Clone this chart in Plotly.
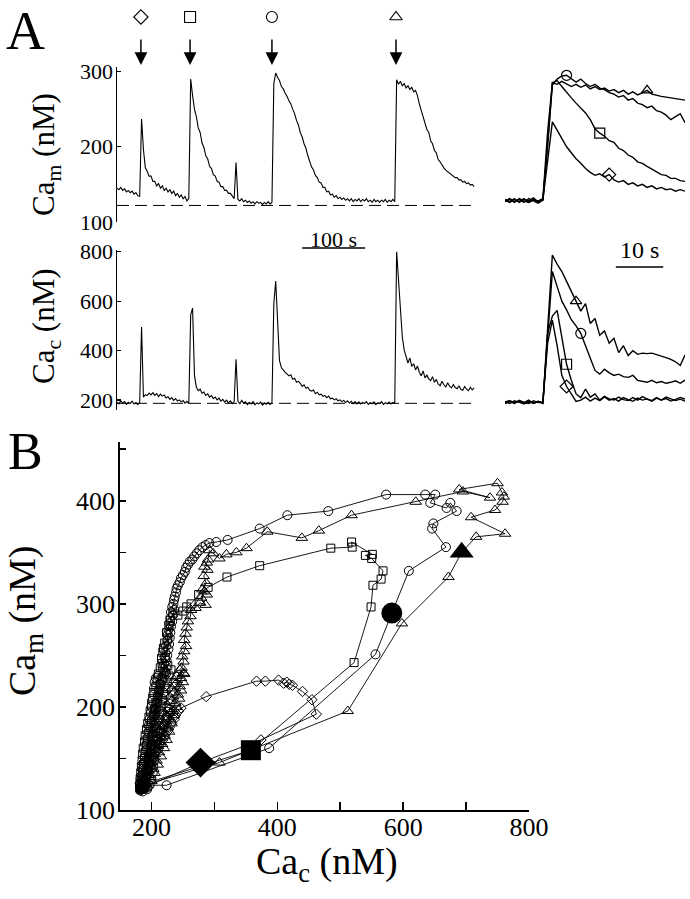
import plotly.graph_objects as go

W, H = 690, 899
FONT = "Liberation Serif, Times New Roman, serif"

# ---------------- Panel A: full recordings (3 s sampling) ----------------
SAMPLE_DT = 3
cam_trace = [
    145, 143, 146, 142, 144, 140, 142, 139, 141, 137,
    139, 135, 134, 237, 196, 172, 167, 161, 161, 154,
    154, 148, 151, 145, 148, 142, 145, 140, 143, 138,
    141, 135, 138, 133, 136, 131, 134, 128, 131, 290,
    268, 250, 240, 225, 219, 205, 199, 188, 184, 174,
    171, 163, 161, 154, 153, 147, 147, 142, 142, 138,
    138, 134, 131, 179, 130, 128, 131, 127, 129, 126,
    128, 125, 127, 124, 127, 125, 126, 123, 126, 124,
    127, 124, 126, 284, 298, 292, 288, 280, 277, 271,
    267, 261, 257, 250, 244, 235, 229, 219, 213, 204,
    198, 188, 181, 173, 169, 162, 159, 153, 152, 146,
    146, 140, 141, 136, 137, 133, 135, 131, 133, 130,
    132, 129, 131, 128, 131, 127, 130, 128, 131, 127,
    130, 128, 131, 127, 129, 126, 130, 127, 129, 126,
    129, 127, 130, 126, 129, 127, 130, 127, 289, 283,
    287, 281, 284, 278, 281, 276, 279, 273, 275, 268,
    257, 249, 239, 234, 223, 219, 208, 204, 195, 192,
    183, 180, 175, 172, 169, 167, 166, 163, 162, 159,
    159, 156, 156, 153, 154, 151, 152, 149, 150, 147,
]
cac_trace = [
    192, 185, 197, 188, 194, 183, 191, 186, 196, 184,
    190, 182, 188, 496, 212, 222, 218, 228, 221, 230,
    219, 226, 214, 224, 216, 221, 209, 214, 203, 210,
    199, 206, 196, 201, 193, 198, 188, 195, 186, 545,
    572, 300, 252, 238, 244, 228, 233, 219, 225, 212,
    218, 206, 212, 201, 208, 196, 203, 192, 200, 189,
    197, 186, 194, 365, 196, 185, 199, 188, 193, 182,
    190, 184, 194, 181, 189, 185, 192, 180, 188, 183,
    191, 182, 188, 590, 681, 545, 360, 332, 320, 312,
    305, 298, 302, 284, 288, 272, 276, 268, 255, 262,
    248, 252, 240, 236, 241, 226, 232, 221, 224, 215,
    219, 210, 216, 205, 208, 201, 206, 197, 201, 194,
    199, 190, 197, 188, 195, 186, 194, 185, 193, 184,
    191, 186, 194, 183, 190, 185, 193, 182, 189, 186,
    194, 183, 190, 185, 192, 184, 191, 186, 800, 690,
    540, 455, 402, 376, 350, 371, 336, 347, 322, 338,
    312, 298, 318, 290, 301, 286, 279, 295, 272, 284,
    265, 258, 276, 262, 253, 270, 256, 249, 263, 251,
    246, 258, 243, 240, 255, 244, 238, 252, 241, 249,
]
stim_times = [38, 116, 246, 443]
stim_symbols = ["diamond-open", "square-open", "circle-open", "triangle-up-open"]
cam_baseline = 122
cac_baseline = 187
cam_ticks = [100, 200, 300]
cac_ticks = [200, 400, 600, 800]

# ---------------- Panel A insets (1 s sampling, 38 s window) ----------------
inset_t = list(range(39))
cam_ins_diamond = [128, 131, 127, 130, 126, 131, 128, 125, 129,
                   180, 233, 222, 210, 200, 192, 184, 178, 171, 166, 162,
                   164, 160, 163, 156, 153, 155, 150, 152, 148, 150,
                   146, 148, 144, 146, 143, 144, 141, 143, 141]
cam_ins_square = [130, 127, 131, 126, 130, 128, 132, 127, 130,
                  200, 285, 288, 280, 272, 265, 258, 251, 245, 236, 224,
                  218, 214, 208, 206, 198, 195, 189, 186, 180, 178,
                  174, 170, 167, 163, 162, 158, 158, 155, 154]
cam_ins_circle = [127, 130, 126, 131, 128, 126, 130, 127, 129,
                  210, 282, 290, 294, 295, 290, 286, 290, 284, 280, 283,
                  278, 276, 272, 270, 266, 268, 262, 264, 258, 256,
                  252, 254, 248, 246, 242, 236, 240, 244, 232]
cam_ins_triangle = [129, 126, 130, 127, 131, 126, 129, 128, 131,
                    220, 285, 283, 287, 284, 280, 283, 279, 282, 277, 280,
                    276, 278, 274, 276, 272, 275, 270, 273, 269, 272,
                    275, 270, 268, 267, 266, 265, 263, 263, 262]
cac_ins_diamond = [189, 195, 186, 199, 191, 186, 197, 190, 192,
                   430, 523, 420, 300, 255, 225, 195, 200, 212, 196, 208,
                   198, 213, 200, 206, 196, 210, 202, 195, 208, 200,
                   205, 198, 210, 200, 206, 196, 203, 211, 204]
cac_ins_square = [194, 186, 197, 190, 185, 196, 188, 193, 186,
                  470, 540, 563, 460, 345, 280, 225, 210, 245, 212, 225,
                  200, 215, 205, 200, 212, 202, 198, 210, 200, 214,
                  204, 196, 208, 200, 212, 205, 198, 204, 196]
cac_ins_circle = [186, 194, 190, 197, 185, 192, 188, 195, 189,
                  450, 720, 660, 600, 565, 525, 500, 470, 420, 370, 320,
                  305, 325, 310, 300, 305, 295, 292, 300, 280, 276,
                  272, 280, 270, 275, 268, 272, 278, 268, 281]
cac_ins_triangle = [192, 198, 188, 196, 190, 200, 186, 194, 190,
                    500, 787, 750, 720, 680, 640, 600, 560, 590, 510, 530,
                    462, 480, 430, 450, 392, 420, 380, 400, 385, 390,
                    388, 390, 385, 378, 372, 365, 355, 340, 382]
cam_label_idx = [22, 20, 13, 30]   # diamond, square, circle, triangle
cac_label_idx = [13, 13, 16, 15]

# ---------------- Panel B: (Ca_c, Ca_m) trajectories, nM ----------------
b_circle = [
    (184, 121), (188, 123), (182, 120), (186, 124),
    (224, 124), (387, 160), (556, 251), (582, 291), (609, 332), (668, 355),
    (646, 373), (648, 378), (685, 390), (675, 398), (669, 393), (643, 398), (651, 406),
    (635, 406), (573, 406), (481, 390), (416, 386), (372, 373), (321, 362), (303, 360),
    (292, 359), (286, 357), (281, 355), (276, 352), (272, 349), (268, 346), (265, 343),
    (261, 341), (258, 338), (255, 335), (253, 331), (250, 328), (247, 325), (245, 321),
    (242, 318), (240, 315), (239, 311), (237, 307), (236, 304), (235, 300), (233, 297),
    (236, 294), (231, 292), (234, 289), (230, 286), (233, 283), (228, 281), (231, 278),
    (227, 275), (230, 272), (226, 270), (229, 267), (225, 264), (228, 261), (223, 259),
    (227, 256), (222, 253), (225, 250), (221, 248), (224, 245), (220, 242), (223, 239),
    (218, 237), (222, 234),
    (223, 232), (210, 230), (207, 228), (218, 226), (205, 224), (214, 222), (221, 220),
    (204, 218), (212, 216), (219, 214), (203, 212), (210, 210), (217, 208), (201, 206),
    (209, 204), (216, 202), (200, 200), (207, 198), (215, 196), (199, 194), (206, 192),
    (213, 190), (197, 188), (205, 186), (212, 184), (196, 182), (203, 180), (211, 178),
    (195, 176), (202, 174), (209, 172), (193, 170), (201, 168), (208, 166), (192, 164),
    (199, 162), (207, 160), (191, 158), (198, 156), (205, 154), (189, 152), (196, 150),
    (204, 148), (188, 146), (195, 144), (203, 142), (187, 140), (194, 138), (202, 136),
    (186, 134), (192, 132), (200, 130), (184, 128), (190, 126), (197, 124), (183, 122),
    (188, 121), (193, 120), (182, 119), (186, 118),
]
b_triangle = [
    (186, 122), (190, 125), (184, 120), (188, 124),
    (308, 146), (512, 196), (598, 281), (672, 326), (693, 350), (716, 365), (762, 368),
    (708, 384), (746, 391), (758, 399), (760, 404), (757, 408), (750, 417), (689, 411),
    (738, 403), (695, 409), (620, 399), (518, 386), (466, 371), (439, 364), (384, 370),
    (351, 354), (335, 350),
    (319, 348), (308, 344), (298, 349), (292, 352), (290, 343), (288, 340), (284, 336),
    (289, 333), (283, 327), (287, 320), (281, 314), (288, 309), (284, 312), (279, 306),
    (286, 299), (277, 301), (270, 296), (263, 294), (262, 288), (258, 283), (256, 277),
    (254, 271), (252, 265), (255, 259), (252, 254), (249, 249), (251, 244), (248, 238),
    (245, 236), (251, 233),
    (252, 232), (240, 230), (247, 228), (236, 226), (250, 224), (238, 222), (245, 220),
    (232, 218), (247, 216), (236, 214), (242, 212), (229, 210), (244, 208), (232, 206),
    (238, 204), (225, 202), (240, 200), (228, 198), (234, 196), (221, 194), (236, 192),
    (224, 190), (230, 188), (217, 186), (232, 184), (219, 182), (226, 180), (213, 178),
    (228, 176), (215, 174), (221, 172), (209, 170), (224, 168), (211, 166), (217, 164),
    (205, 162), (220, 160), (207, 158), (212, 156), (201, 154), (215, 152), (203, 150),
    (208, 148), (197, 146), (210, 144), (199, 142), (203, 140), (193, 138), (205, 136),
    (195, 134), (198, 132), (189, 130), (200, 128), (191, 126), (193, 124), (186, 122),
    (190, 121), (187, 120),
]
b_square = [
    (185, 121), (189, 124), (183, 122), (187, 125),
    (358, 158), (522, 243), (549, 297), (552, 318), (565, 324), (568, 332), (550, 344),
    (540, 347), (551, 348), (518, 360), (519, 355), (485, 354), (372, 337), (320, 326),
    (290, 316), (275, 309), (263, 300), (256, 297), (250, 293), (242, 289), (234, 291),
    (230, 284), (228, 279), (224, 272), (226, 266), (221, 262), (219, 257), (218, 253),
    (222, 248), (217, 242), (216, 247),
    (226, 240), (214, 238), (231, 236), (220, 234), (211, 232), (228, 230), (217, 228),
    (209, 226), (225, 224), (214, 222), (207, 220), (223, 218), (212, 216), (204, 214),
    (220, 212), (210, 210), (202, 208), (218, 206), (207, 204), (200, 202), (215, 200),
    (205, 198), (198, 196), (213, 194), (203, 192), (196, 190), (211, 188), (200, 186),
    (194, 184), (208, 182), (198, 180), (192, 178), (206, 176), (196, 174), (190, 172),
    (203, 170), (194, 168), (189, 166), (201, 164), (192, 162), (187, 160), (199, 158),
    (190, 156), (186, 154), (197, 152), (189, 150), (185, 148), (195, 146), (187, 144),
    (184, 142), (193, 140), (186, 138), (183, 136), (191, 134), (185, 132), (182, 130),
    (189, 128), (184, 126), (181, 124), (187, 122), (183, 120),
]
b_diamond = [
    (184, 120), (188, 123), (186, 121),
    (278, 146), (374, 168), (462, 193), (455, 207), (440, 215), (424, 221), (419, 222),
    (415, 224), (410, 223), (402, 226), (381, 225), (367, 225), (287, 210), (247, 199),
    (243, 196), (230, 194), (238, 192), (226, 190), (236, 188), (223, 186), (232, 184),
    (219, 182), (228, 180), (216, 178), (225, 176), (212, 174), (221, 172), (209, 170),
    (218, 168), (206, 166), (214, 164), (202, 162), (211, 160), (199, 158), (207, 156),
    (196, 154), (204, 152), (193, 150), (200, 148), (190, 146), (197, 144), (188, 142),
    (194, 140), (186, 138), (191, 136), (184, 134), (189, 132), (183, 130), (187, 128),
    (182, 126), (186, 124), (183, 122), (185, 120),
]
b_filled = [(278, 146), (358, 158), (582, 291), (693, 350)]
b_filled_symbols = ["diamond", "square", "circle", "triangle-up"]
b_filled_sizes = [23, 20, 21, 21]
b_xticks = [200, 300, 400, 500, 600, 700, 800]
b_xticktext = ["200", "", "400", "", "600", "", "800"]
b_yticks = [100, 150, 200, 250, 300, 350, 400, 450]
b_yticktext = ["100", "", "200", "", "300", "", "400", ""]


def xd(px):
    return px / W


def yd(py):
    return 1 - py / H


fig = go.Figure()
BLACK = "black"

# --- A main traces
t_cam = [SAMPLE_DT * i for i in range(len(cam_trace))]
t_cac = [SAMPLE_DT * i for i in range(len(cac_trace))]
fig.add_trace(go.Scatter(x=t_cam, y=cam_trace, mode="lines", line=dict(color=BLACK, width=1.1),
                         xaxis="x", yaxis="y"))
fig.add_trace(go.Scatter(x=t_cac, y=cac_trace, mode="lines", line=dict(color=BLACK, width=1.1),
                         xaxis="x2", yaxis="y2"))

# --- header symbols over stimuli
fig.add_trace(go.Scatter(x=stim_times, y=[0.5] * len(stim_times), mode="markers",
                         marker=dict(symbol=stim_symbols, size=11, color=BLACK, opacity=1,
                                     line=dict(width=1.1, color=BLACK)),
                         xaxis="x", yaxis="y6"))

# --- insets
cam_ins = [cam_ins_diamond, cam_ins_square, cam_ins_circle, cam_ins_triangle]
cac_ins = [cac_ins_diamond, cac_ins_square, cac_ins_circle, cac_ins_triangle]
for k in range(4):
    fig.add_trace(go.Scatter(x=inset_t, y=cam_ins[k], mode="lines", line=dict(color=BLACK, width=1.4),
                             xaxis="x3", yaxis="y3"))
    fig.add_trace(go.Scatter(x=inset_t, y=cac_ins[k], mode="lines", line=dict(color=BLACK, width=1.4),
                             xaxis="x4", yaxis="y4"))
for k in range(4):
    i1 = cam_label_idx[k]
    i2 = cac_label_idx[k]
    fig.add_trace(go.Scatter(x=[inset_t[i1]], y=[cam_ins[k][i1]], mode="markers",
                             marker=dict(symbol=stim_symbols[k], size=10, color=BLACK, opacity=1,
                                         line=dict(width=1.2, color=BLACK)),
                             xaxis="x3", yaxis="y3"))
    fig.add_trace(go.Scatter(x=[inset_t[i2]], y=[cac_ins[k][i2]], mode="markers",
                             marker=dict(symbol=stim_symbols[k], size=10, color=BLACK, opacity=1,
                                         line=dict(width=1.2, color=BLACK)),
                             xaxis="x4", yaxis="y4"))

# --- Panel B
b_series = [
    (b_diamond, "diamond-open", 8),
    (b_square, "square-open", 8),
    (b_circle, "circle-open", 9),
    (b_triangle, "triangle-up-open", 10),
]
for pts, sym, sz in b_series:
    xs = [p[0] for p in pts]
    ys = [p[1] for p in pts]
    fig.add_trace(go.Scatter(x=xs, y=ys, mode="lines+markers",
                             line=dict(color=BLACK, width=0.9),
                             marker=dict(symbol=sym, size=sz, color=BLACK, opacity=1,
                                         line=dict(width=1.0, color=BLACK)),
                             xaxis="x5", yaxis="y5"))
fig.add_trace(go.Scatter(x=[p[0] for p in b_filled], y=[p[1] for p in b_filled], mode="markers",
                         marker=dict(symbol=b_filled_symbols, size=b_filled_sizes, color=BLACK,
                                     opacity=1, line=dict(width=0)),
                         xaxis="x5", yaxis="y5"))

tickfont_a = dict(family=FONT, size=22, color=BLACK)
tickfont_b = dict(family=FONT, size=26, color=BLACK)
hidden = dict(visible=False, showgrid=False, zeroline=False, automargin=False)

fig.update_layout(
    template="none",
    width=W, height=H, autosize=False,
    margin=dict(l=0, r=0, t=0, b=0, pad=0, autoexpand=False),
    paper_bgcolor="white", plot_bgcolor="rgba(0,0,0,0)",
    font=dict(family=FONT, color=BLACK),
    showlegend=False,
    hovermode=False,
    xaxis=dict(domain=[xd(117), xd(476)], range=[0, 570], anchor="y", **hidden),
    yaxis=dict(domain=[yd(222), yd(67)], range=[100, 306], anchor="x", automargin=False,
               showline=True, linecolor=BLACK, linewidth=1.5, ticks="inside", ticklen=4,
               tickwidth=1.3, tickcolor=BLACK, tickvals=cam_ticks, tickfont=tickfont_a,
               ticklabelstandoff=-2, showgrid=False, zeroline=False),
    xaxis2=dict(domain=[xd(117), xd(476)], range=[0, 570], anchor="y2", **hidden),
    yaxis2=dict(domain=[yd(410), yd(250)], range=[160, 807], anchor="x2", automargin=False,
                showline=True, linecolor=BLACK, linewidth=1.5, ticks="inside", ticklen=4,
                tickwidth=1.3, tickcolor=BLACK, tickvals=cac_ticks, tickfont=tickfont_a,
                ticklabelstandoff=-2, showgrid=False, zeroline=False),
    xaxis3=dict(domain=[xd(505), xd(685)], range=[0, 38], anchor="y3", **hidden),
    yaxis3=dict(domain=[yd(222), yd(67)], range=[100, 306], anchor="x3", **hidden),
    xaxis4=dict(domain=[xd(505), xd(685)], range=[0, 38], anchor="y4", **hidden),
    yaxis4=dict(domain=[yd(410), yd(250)], range=[160, 807], anchor="x4", **hidden),
    xaxis5=dict(domain=[xd(120), xd(529)], range=[150, 800], anchor="y5", automargin=False,
                showline=True, linecolor=BLACK, linewidth=1.8, ticks="inside", ticklen=8,
                tickwidth=1.5, tickcolor=BLACK, tickvals=b_xticks, ticktext=b_xticktext,
                tickfont=tickfont_b, ticklabelstandoff=-7, showgrid=False, zeroline=False),
    yaxis5=dict(domain=[yd(810), yd(442)], range=[100, 457], anchor="x5", automargin=False,
                showline=True, linecolor=BLACK, linewidth=1.8, ticks="inside", ticklen=6,
                tickwidth=1.5, tickcolor=BLACK, tickvals=b_yticks, ticktext=b_yticktext,
                tickfont=tickfont_b, ticklabelstandoff=-2, showgrid=False, zeroline=False),
    yaxis6=dict(domain=[yd(34), 1], range=[0, 1], anchor="x", **hidden),
)

# dashed baselines
fig.add_shape(type="line", xref="x", yref="y", x0=0, x1=570, y0=cam_baseline, y1=cam_baseline,
              line=dict(color=BLACK, width=1, dash="12px,6px"))
fig.add_shape(type="line", xref="x2", yref="y2", x0=0, x1=570, y0=cac_baseline, y1=cac_baseline,
              line=dict(color=BLACK, width=1, dash="12px,6px"))

# scale bars
bar_main = (294, 394)
bar_inset = (23.4, 33.4)
fig.add_shape(type="line", xref="x", yref="paper", x0=bar_main[0], x1=bar_main[1], y0=yd(248), y1=yd(248),
              line=dict(color=BLACK, width=1.6))
fig.add_shape(type="line", xref="x3", yref="paper", x0=bar_inset[0], x1=bar_inset[1], y0=yd(267), y1=yd(267),
              line=dict(color=BLACK, width=1.6))


def label(x, y, text, size, angle=0):
    return dict(x=xd(x), y=yd(y), xref="paper", yref="paper", text=text, showarrow=False,
                textangle=angle, xanchor="center", yanchor="middle",
                font=dict(family=FONT, size=size, color=BLACK))


ann = []
ann.append(dict(x=sum(bar_main) / 2, y=yd(239), xref="x", yref="paper", text="100 s", showarrow=False,
                xanchor="center", yanchor="middle", font=dict(family=FONT, size=22, color=BLACK)))
ann.append(dict(x=sum(bar_inset) / 2, y=yd(250), xref="x3", yref="paper", text="10 s", showarrow=False,
                xanchor="center", yanchor="middle", font=dict(family=FONT, size=24, color=BLACK)))
for t in stim_times:
    ann.append(dict(x=t, y=yd(65), xref="x", yref="paper", text="", showarrow=True, ax=0, ay=-27,
                    arrowhead=2, arrowsize=1.7, arrowwidth=1.5, arrowcolor=BLACK, standoff=0))
ann.append(label(25, 31, "A", 54))
ann.append(label(25, 451, "B", 52))
ann.append(label(46, 155, "Ca<sub>m</sub> (nM)", 31, -90))
ann.append(label(46, 326, "Ca<sub>c</sub> (nM)", 31, -90))
ann.append(label(25, 621, "Ca<sub>m</sub> (nM)", 38, -90))
ann.append(label(327, 864, "Ca<sub>c</sub> (nM)", 38))
fig.update_layout(annotations=ann)

fig.write_html(
    "out.html",
    config={"displayModeBar": False, "staticPlot": True},
    post_script="document.documentElement.style.margin='0';document.body.style.margin='0';"
                "document.body.style.overflow='hidden';",
)
